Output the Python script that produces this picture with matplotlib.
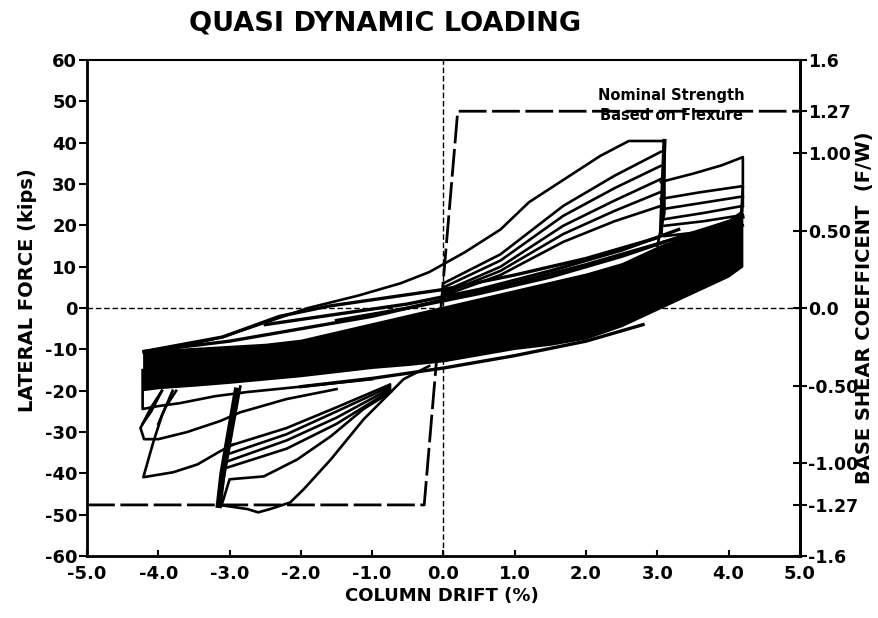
import matplotlib
matplotlib.use('Agg')
import matplotlib.pyplot as plt

plt.rcParams['font.family'] = ['DejaVu Sans']
plt.rcParams['font.weight'] = 'bold'
plt.rcParams['axes.unicode_minus'] = False

# nominal strength (kips), 1.27 F/W
nominal = 47.6
nom_x = [-5.0, -0.27, 0.2, 5.0]
nom_y = [-nominal, -nominal, nominal, nominal]

# dense core of the hysteresis band
band_x = [-4.22, -4.0, -3.5, -3.0, -2.5, -2.0, -1.5, -1.0, -0.5, 0.0, 0.5, 1.0, 1.5, 2.0, 2.5, 3.0, 3.5, 4.0, 4.2]
band_lo = [-20, -19.5, -18.9, -18.2, -17.4, -16.6, -15.6, -14.6, -13.9, -13, -11.5, -10, -9, -7.5, -4.5, -0.5, 3.5, 7.5, 10]
band_hi = [-10.5, -10, -9.5, -9, -8.5, -7.5, -5.5, -3.5, -1.5, 0.5, 2.5, 4.5, 6.5, 8.5, 11, 15, 18.5, 21.5, 24]

# loops to +3.1 %
p1_x = [-4.2, -3.6, -3.1, -2.5, -1.9, -1.2, -0.6, -0.2, 0.3, 0.8, 1.2, 1.7, 2.2, 2.6, 3.1, 3.1, 3.0]
p1_y = [-11, -9, -7, -3.5, 0, 3, 6, 8.7, 13.5, 19, 25.6, 31.2, 36.8, 40.4, 40.4, 23, 15]
p_x = [0.0, 0.8, 1.68, 2.4, 3.05]
p2_y = [6, 13, 24.7, 32, 37.8]
p3_y = [5, 11.5, 22.3, 29, 34.4]
p4_y = [4, 10, 19.9, 26, 31.2]
p5_y = [3.5, 9, 17.9, 23.5, 28.1]
p6_y = [3, 8, 16, 21, 24.7]

# loops to +4.2 %
q1_x = [3.05, 3.5, 3.9, 4.2, 4.2, 4.1]
q1_y = [30.5, 32.5, 34.5, 36.5, 25, 12]
q2_x = [3.05, 3.6, 4.2, 4.15]
q2_y = [26.4, 28, 29.5, 15]
q_x = [3.1, 3.65, 4.2]
q3_y = [24, 25.5, 27]
q4_y = [21.5, 23, 24.7]
q5_y = [19.9, 21, 22.5]
q6_y = [17.4, 18.5, 20]

# fringe branches around the band
f1_x = [-4.2, -3.1, -2.3, -1.6, -0.8, 0.0, 1.0, 2.0, 3.0]
f1_y = [-10.5, -7, -2, 0.5, 2.5, 4.5, 8, 12, 17]
f2_x = [-4.2, -3.0, -2.0, -1.0, 0.0, 1.0, 2.0, 3.0, 4.2]
f2_y = [-10.5, -8, -5, -2, 2, 6, 10.5, 15.5, 22]
f3_x = [-2.5, -1.5, -0.5, 0.5, 1.5, 2.5, 3.3]
f3_y = [-4, -1.5, 1, 4.5, 9, 14, 19]
f4_x = [-1.5, -0.5, 0.5, 1.5, 2.5, 3.1]
f4_y = [-3, 0, 3.5, 7.5, 12.5, 16]
f5_x = [-2.0, -1.0, 0.0, 1.0, 2.0, 2.8]
f5_y = [-19, -17, -14.5, -11.5, -8, -4]

# loops to -3.1 %
n1_x = [-0.2, -0.56, -1.12, -1.58, -1.96, -2.15, -2.43, -2.6, -2.75, -3.15, -2.85]
n1_y = [-14, -17.2, -26.9, -36.6, -43.8, -47, -48.6, -49.4, -48.6, -47.6, -19]
n2_x = [-0.74, -1.12, -1.58, -2.05, -2.52, -3.0, -3.1]
n2_y = [-20.3, -24.4, -31, -36.6, -40.7, -41.4, -47]
n_x = [-0.75, -1.5, -2.2, -3.02]
n3_y = [-20, -28, -34, -38.5]
n4_y = [-19.5, -26.5, -32, -37]
n5_y = [-19, -25, -30.5, -35.3]
n6_y = [-18.5, -24, -29, -33.4]
v_x = [-3.15, -3.1, -3.0, -2.9]
v_y = [-47.6, -40, -30, -20]

# loops to -4.2 %
l1_x = [-2.95, -3.13, -3.45, -3.79, -4.21, -4.07, -3.95, -3.8]
l1_y = [-33, -34.6, -37.8, -39.7, -40.9, -32.4, -26, -20]
l2_x = [-1.5, -2.2, -2.85, -3.13, -3.6, -4.0, -4.2, -4.25, -4.1, -3.95]
l2_y = [-19.6, -22, -25.2, -27.3, -30, -31.7, -31.7, -29, -24, -20]
l3_x = [-1.0, -2.0, -2.75, -3.2, -3.7, -4.0, -4.22, -4.22]
l3_y = [-17.2, -19, -20.3, -21.3, -23, -23.7, -24.4, -15]
l4_x = [-4.22, -4.1, -3.95]
l4_y = [-28, -25, -20]
l5_x = [-4.0, -3.9, -3.75]
l5_y = [-28, -24, -20]

xticks = [-5.0, -4.0, -3.0, -2.0, -1.0, 0.0, 1.0, 2.0, 3.0, 4.0, 5.0]
yticks = [-60, -50, -40, -30, -20, -10, 0, 10, 20, 30, 40, 50, 60]
rticks = [-1.6, -1.27, -1.00, -0.50, 0.0, 0.50, 1.00, 1.27, 1.6]
rlabels = ['-1.6', '-1.27', '-1.00', '-0.50', '0.0', '0.50', '1.00', '1.27', '1.6']

fig = plt.figure(figsize=(8.79, 6.18), dpi=100)
ax = fig.add_axes([0.099, 0.100, 0.811, 0.803])

ax.axhline(0, color='black', lw=1, ls=(0, (4, 2)))
ax.axvline(0, color='black', lw=1, ls=(0, (4, 2)))
ax.plot(nom_x, nom_y, color='black', lw=2, ls=(0, (10, 2)))

ax.fill_between(band_x, band_lo, band_hi, color='black', lw=0)

lw = 1.9
ax.plot(p1_x, p1_y, color='black', lw=lw)
for py in [p2_y, p3_y, p4_y, p5_y, p6_y]:
    ax.plot(p_x, py, color='black', lw=lw)
ax.plot([3.1, 3.05], [40.4, 18], color='black', lw=3)
ax.plot(q1_x, q1_y, color='black', lw=lw)
ax.plot(q2_x, q2_y, color='black', lw=lw)
for qy in [q3_y, q4_y, q5_y, q6_y]:
    ax.plot(q_x, qy, color='black', lw=lw)
for fx, fy in [(f1_x, f1_y), (f2_x, f2_y), (f3_x, f3_y), (f4_x, f4_y), (f5_x, f5_y)]:
    ax.plot(fx, fy, color='black', lw=2.4)

ax.plot(n1_x, n1_y, color='black', lw=lw)
ax.plot(n2_x, n2_y, color='black', lw=lw)
for ny in [n3_y, n4_y, n5_y, n6_y]:
    ax.plot(n_x, ny, color='black', lw=lw)
ax.plot(v_x, v_y, color='black', lw=4.5)

for lx, ly in [(l1_x, l1_y), (l2_x, l2_y), (l3_x, l3_y), (l4_x, l4_y), (l5_x, l5_y)]:
    ax.plot(lx, ly, color='black', lw=lw)

ax.set_xlim(-5, 5)
ax.set_ylim(-60, 60)
ax.set_xticks(xticks)
ax.set_xticklabels(['%.1f' % v for v in xticks])
ax.set_yticks(yticks)
ax.set_yticklabels([str(v) for v in yticks])
ax.tick_params(axis='y', direction='out', length=6, width=1.5, labelsize=13, pad=1)
ax.tick_params(axis='x', direction='in', length=4, width=1.5, labelsize=13, pad=6)
for s in ['left', 'right', 'bottom']:
    ax.spines[s].set_linewidth(2)
ax.spines['top'].set_linewidth(1.5)
ax.spines['top'].set_linestyle((0, (14, 1)))

ax.text(3.2, 51.5, 'Nominal Strength', ha='center', va='center', fontsize=10.5)
ax.text(3.2, 46.5, 'Based on Flexure', ha='center', va='center', fontsize=10.5)

ax2 = ax.twinx()
ax2.set_ylim(-1.6, 1.6)
ax2.set_yticks(rticks)
ax2.set_yticklabels(rlabels)
ax2.tick_params(axis='y', direction='inout', length=10, width=1.5, labelsize=12.5, pad=1)
ax2.spines['right'].set_linewidth(2)
ax2.spines['top'].set_visible(False)

fig.text(0.438, 0.962, 'QUASI DYNAMIC LOADING', ha='center', va='center', fontsize=19.5)
fig.text(0.503, 0.035, 'COLUMN DRIFT (%)', ha='center', va='center', fontsize=13)
fig.text(0.031, 0.531, 'LATERAL FORCE (kips)', ha='center', va='center', rotation=90, fontsize=14)
fig.text(0.984, 0.502, 'BASE SHEAR COEFFICENT  (F/W)', ha='center', va='center', rotation=90, fontsize=14)

plt.savefig('out.png', dpi=100)
